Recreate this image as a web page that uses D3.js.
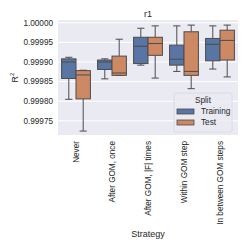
<!DOCTYPE html>
<head>
<meta charset="utf-8">
<script src="https://d3js.org/d3.v7.min.js"></script>
<style>
  body { margin: 0; background: #fff; }
  text { font-family: "Liberation Sans", Arial, sans-serif; fill: #262626; }
</style>
</head>
<body>
<script>
// categories and box stats [whisker low, q1, median, q3, whisker high]
var strategies = ["Never", "After GOM, once", "After GOM, |F| times", "Within GOM step", "In between GOM steps"];
var splits = ["Training", "Test"];
var trainingStats = [
  [0.999805, 0.999858, 0.999900, 0.999908, 0.999912],
  [0.999857, 0.999881, 0.999900, 0.999905, 0.999908],
  [0.999892, 0.999896, 0.999940, 0.999963, 0.999986],
  [0.999876, 0.999892, 0.999907, 0.999943, 0.999992],
  [0.999882, 0.999903, 0.999945, 0.999960, 0.999992]
];
var testStats = [
  [0.999724, 0.999806, 0.999867, 0.999878, 0.999879],
  [0.999866, 0.999866, 0.999872, 0.999915, 0.999958],
  [0.999859, 0.999917, 0.999947, 0.999963, 0.999992],
  [0.999832, 0.999866, 0.999876, 0.999977, 0.999994],
  [0.999862, 0.999905, 0.999955, 0.999981, 0.999994]
];
var yTicks = [0.99975, 0.99980, 0.99985, 0.99990, 0.99995, 1.00000];
var colors = ["#5875a4", "#cc8963"];

var width = 249, height = 249;
var plotLeft = 58, plotRight = 238, plotTop = 20, plotBottom = 135;

var svg = d3.select("body").append("svg")
  .attr("width", width)
  .attr("height", height);

// plot background
svg.append("rect")
  .attr("x", plotLeft).attr("y", plotTop)
  .attr("width", plotRight - plotLeft).attr("height", plotBottom - plotTop)
  .attr("fill", "#eaeaf2");

var x = d3.scaleBand().domain(strategies).range([plotLeft, plotRight]).padding(0);
var hue = d3.scaleBand().domain(splits).range([-x.bandwidth() * 0.4, x.bandwidth() * 0.4]);
var y = d3.scaleLinear().domain([0.999714, 1.000007]).range([plotBottom, plotTop]);

// gridlines + y labels
svg.append("g").selectAll("line").data(yTicks).enter().append("line")
  .attr("x1", plotLeft).attr("x2", plotRight)
  .attr("y1", function(d){ return y(d); })
  .attr("y2", function(d){ return y(d); })
  .attr("stroke", "#fff").attr("stroke-width", 1);

svg.append("g").selectAll("text").data(yTicks).enter().append("text")
  .attr("x", plotLeft - 5)
  .attr("y", function(d){ return y(d); })
  .attr("dy", "0.35em")
  .attr("text-anchor", "end")
  .attr("font-size", 8.2)
  .text(function(d){ return d3.format(".5f")(d); });

// boxes
var series = [trainingStats, testStats];
var lineColor = "#4c4c4c";
series.forEach(function(stats, s) {
  var g = svg.append("g");
  stats.forEach(function(st, i) {
    var x0 = x(strategies[i]) + x.bandwidth() / 2 + hue(splits[s]);
    var bw = hue.bandwidth();
    var xc = x0 + bw / 2;
    // whiskers
    g.append("line").attr("x1", xc).attr("x2", xc).attr("y1", y(st[0])).attr("y2", y(st[1]))
      .attr("stroke", lineColor).attr("stroke-width", 1);
    g.append("line").attr("x1", xc).attr("x2", xc).attr("y1", y(st[3])).attr("y2", y(st[4]))
      .attr("stroke", lineColor).attr("stroke-width", 1);
    // caps
    [st[0], st[4]].forEach(function(v) {
      g.append("line").attr("x1", xc - bw / 4).attr("x2", xc + bw / 4)
        .attr("y1", y(v)).attr("y2", y(v))
        .attr("stroke", lineColor).attr("stroke-width", 1);
    });
    // box
    g.append("rect")
      .attr("x", x0).attr("y", y(st[3]))
      .attr("width", bw).attr("height", Math.max(0.5, y(st[1]) - y(st[3])))
      .attr("fill", colors[s]).attr("stroke", lineColor).attr("stroke-width", 1);
    // median
    g.append("line").attr("x1", x0).attr("x2", x0 + bw)
      .attr("y1", y(st[2])).attr("y2", y(st[2]))
      .attr("stroke", lineColor).attr("stroke-width", 1);
  });
});

// x tick labels, rotated
svg.append("g").selectAll("text").data(strategies).enter().append("text")
  .attr("transform", function(d){ return "translate(" + (x(d) + x.bandwidth() / 2) + ",141) rotate(-90)"; })
  .attr("dy", "0.35em")
  .attr("text-anchor", "end")
  .attr("font-size", 8.2)
  .text(function(d){ return d; });

// axis titles
svg.append("text")
  .attr("x", (plotLeft + plotRight) / 2).attr("y", 237)
  .attr("text-anchor", "middle")
  .attr("font-size", 9)
  .text("Strategy");

svg.append("text")
  .attr("transform", "translate(18," + ((plotTop + plotBottom) / 2) + ") rotate(-90)")
  .attr("text-anchor", "middle")
  .attr("font-size", 9)
  .html("R<tspan font-size='6' dy='-4'>2</tspan>");

svg.append("text")
  .attr("x", (plotLeft + plotRight) / 2).attr("y", 17)
  .attr("text-anchor", "middle")
  .attr("font-size", 9)
  .text("r1");

// legend
var lg = svg.append("g").attr("transform", "translate(174,93)");
lg.append("rect")
  .attr("width", 58).attr("height", 39).attr("rx", 2)
  .attr("fill", "#eaeaf2").attr("fill-opacity", 0.8)
  .attr("stroke", "#d8d8e0").attr("stroke-width", 0.8);
lg.append("text")
  .attr("x", 29).attr("y", 10)
  .attr("text-anchor", "middle")
  .attr("font-size", 8.2)
  .text("Split");
var items = lg.selectAll(".legends").data(splits).enter().append("g")
  .attr("transform", function(d, i){ return "translate(3," + (16 + i * 11) + ")"; });
items.append("rect")
  .attr("width", 17).attr("height", 5)
  .attr("fill", function(d, i){ return colors[i]; })
  .attr("stroke", lineColor).attr("stroke-width", 0.8);
items.append("text")
  .attr("x", 24).attr("y", 2.5).attr("dy", "0.35em")
  .attr("font-size", 8.2)
  .text(function(d){ return d; });
</script>
</body>
